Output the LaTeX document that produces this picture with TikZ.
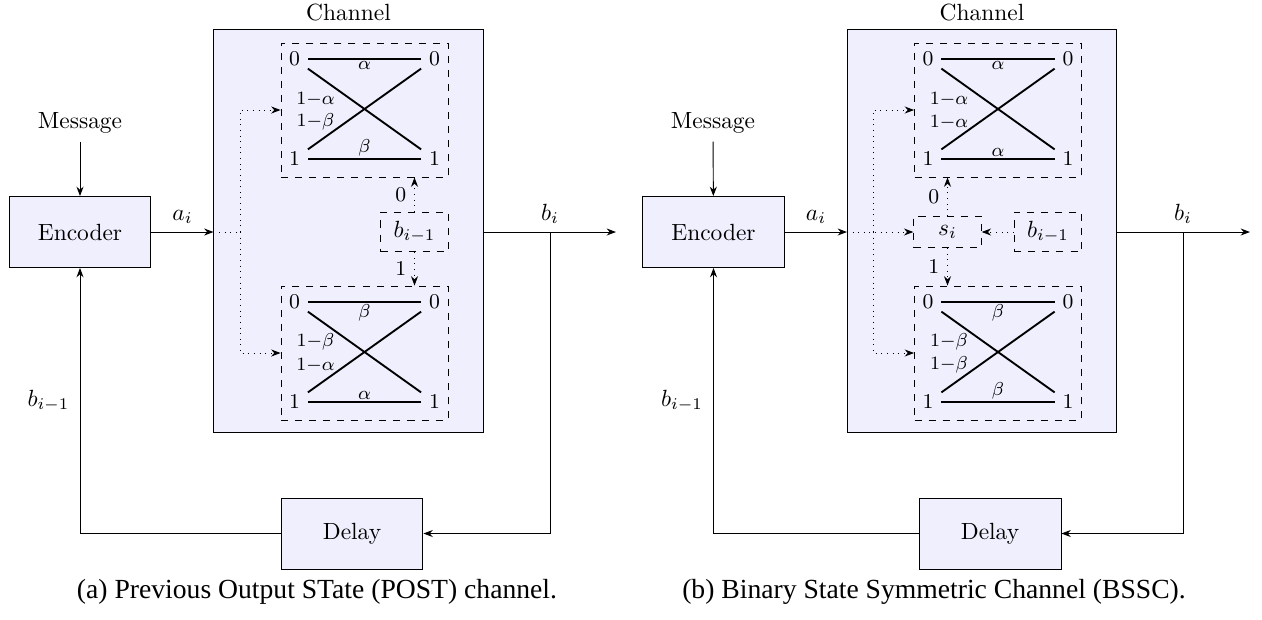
\documentclass[tikz,border=0pt]{standalone}
\usepackage{fontspec}
\newfontfamily\capfont{Liberation Serif}
\usepackage{amsmath}
\usetikzlibrary{arrows.meta, positioning, calc}
\definecolor{BoxFill}{HTML}{EFEFFD}
\tikzset{
  % Box styles
  blockbox/.style={rectangle, draw=black, fill=BoxFill, minimum width=60.6pt, minimum height=30.3pt, align=center},
  chanbox/.style={rectangle, draw=black, fill=BoxFill, minimum width=114.9pt, minimum height=171.7pt},
  bscbox/.style={rectangle, draw=black, dashed, minimum width=71.3pt, minimum height=57.2pt},
  statebox/.style={rectangle, draw=black, dashed, minimum width=28.8pt, inner ysep=3.8pt},
  digit/.style={font=\small, inner xsep=3.2pt, inner ysep=1pt, text height=5.8pt, text depth=0pt},
  problabel/.style={font=\footnotesize, inner sep=1pt},
  caption/.style={font=\capfont\fontsize{11.8}{14}\selectfont},
  % Arrow styles
  arrow/.style={-{Stealth[length=4pt,width=3pt]}},
  dotarrow/.style={-{Stealth[length=4pt,width=3pt]}, dotted},
  dotline/.style={dotted},
  bscline/.style={thick},
  % Binary channel: top, cross 0->1, cross 1->0, bottom
  pics/bsc/.style n args={4}{code={
    \node[bscbox] (-box) at (0,0) {};
    \node[digit] (-i0) at (-70,-51) {0};
    \node[digit] (-o0) at (70,-51) {0};
    \node[digit] (-i1) at (-70,49) {1};
    \node[digit] (-o1) at (70,49) {1};
    \draw[bscline] (-i0.east) -- (-o0.west);
    \draw[bscline] (-i1.east) -- (-o1.west);
    \draw[bscline] (-i0.south east) -- (-o1.north west);
    \draw[bscline] (-i1.north east) -- (-o0.south west);
    \node[problabel, anchor=north] (-p00) at (0,-51) {$#1$};
    \node[problabel, anchor=south] (-p11) at (0,49) {$#4$};
    \node[problabel] (-p01) at (-49,-11) {$#2$};
    \node[problabel] (-p10) at (-49,12) {$#3$};
  }}
}

\begin{document}
\begin{tikzpicture}[x=0.427pt, y=-0.427pt]
  \useasboundingbox (0,0) rectangle (1262,619);

  % (a) POST channel
  \node (msgA) at (80,123) {Message};
  \node[blockbox] (encA) at (80,232) {Encoder};
  \node[chanbox] (chanA) at (348.5,231) {};
  \node[above=0pt of chanA] (chanAtxt) {Channel};
  \pic (upA) at (364.5,110) {bsc={\alpha}{1{-}\alpha}{1{-}\beta}{\beta}};
  \pic (loA) at (364.5,353) {bsc={\beta}{1{-}\beta}{1{-}\alpha}{\alpha}};
  \node[statebox] (prevA) at (414.5,232) {$b_{i-1}$};
  \node[blockbox] (delA) at (352,533.5) {Delay};
  \coordinate (inA) at (chanA.west |- encA);
  \coordinate (splitA) at (240,232);
  \coordinate (tapA) at (550,232);
  \coordinate (outA) at (616,232);

  \draw[arrow] (msgA) -- (encA);
  \draw[arrow] (encA) -- node[above] (aiA) {$a_i$} (inA);
  \draw[dotline] (inA) -- (splitA);
  \draw[dotarrow] (splitA) |- (upA-box.west);
  \draw[dotarrow] (splitA) |- (loA-box.west);
  \draw[dotarrow] (prevA.north) -- node[left, font=\small] (zA) {0} (prevA.north |- upA-box.south);
  \draw[dotarrow] (prevA.south) -- node[left, font=\small] (oA) {1} (prevA.south |- loA-box.north);
  \draw[arrow] (chanA.east |- encA) -- (tapA) node[above] (biA) {$b_i$} -- (outA);
  \draw[arrow] (tapA) |- (delA.east);
  \draw[arrow] (delA.west) -| node[pos=0.75, left=1pt] (fbA) {$b_{i-1}$} (encA.south);
  \node[caption] (capA) at (317,592) {(a) Previous Output STate (POST) channel.};

  % (b) BSSC
  \node (msgB) at (713,123) {Message};
  \node[blockbox] (encB) at (713.5,232) {Encoder};
  \node[chanbox] (chanB) at (982,231) {};
  \node[above=0pt of chanB] (chanBtxt) {Channel};
  \pic (upB) at (998,110) {bsc={\alpha}{1{-}\alpha}{1{-}\alpha}{\alpha}};
  \pic (loB) at (998,353) {bsc={\beta}{1{-}\beta}{1{-}\beta}{\beta}};
  \node[statebox] (stateB) at (947.5,232) {$s_i$};
  \node[statebox] (prevB) at (1048,232) {$b_{i-1}$};
  \node[blockbox] (delB) at (990,533.5) {Delay};
  \coordinate (inB) at (chanB.west |- encB);
  \coordinate (splitB) at (873,232);
  \coordinate (tapB) at (1183,232);
  \coordinate (outB) at (1250,232);

  \draw[arrow] (msgB) -- (encB);
  \draw[arrow] (encB) -- node[above] (aiB) {$a_i$} (inB);
  \draw[dotarrow] (inB) -- (stateB.west);
  \draw[dotarrow] (splitB) |- (upB-box.west);
  \draw[dotarrow] (splitB) |- (loB-box.west);
  \draw[dotarrow] (prevB) -- (stateB);
  \draw[dotarrow] (stateB.north) -- node[left, font=\small] (zB) {0} (stateB.north |- upB-box.south);
  \draw[dotarrow] (stateB.south) -- node[left, font=\small] (oB) {1} (stateB.south |- loB-box.north);
  \draw[arrow] (chanB.east |- encB) -- (tapB) node[above] (biB) {$b_i$} -- (outB);
  \draw[arrow] (tapB) |- (delB.east);
  \draw[arrow] (delB.west) -| node[pos=0.75, left=1pt] (fbB) {$b_{i-1}$} (encB.south);
  \node[caption] (capB) at (934,592) {(b) Binary State Symmetric Channel (BSSC).};
\end{tikzpicture}
\end{document}
